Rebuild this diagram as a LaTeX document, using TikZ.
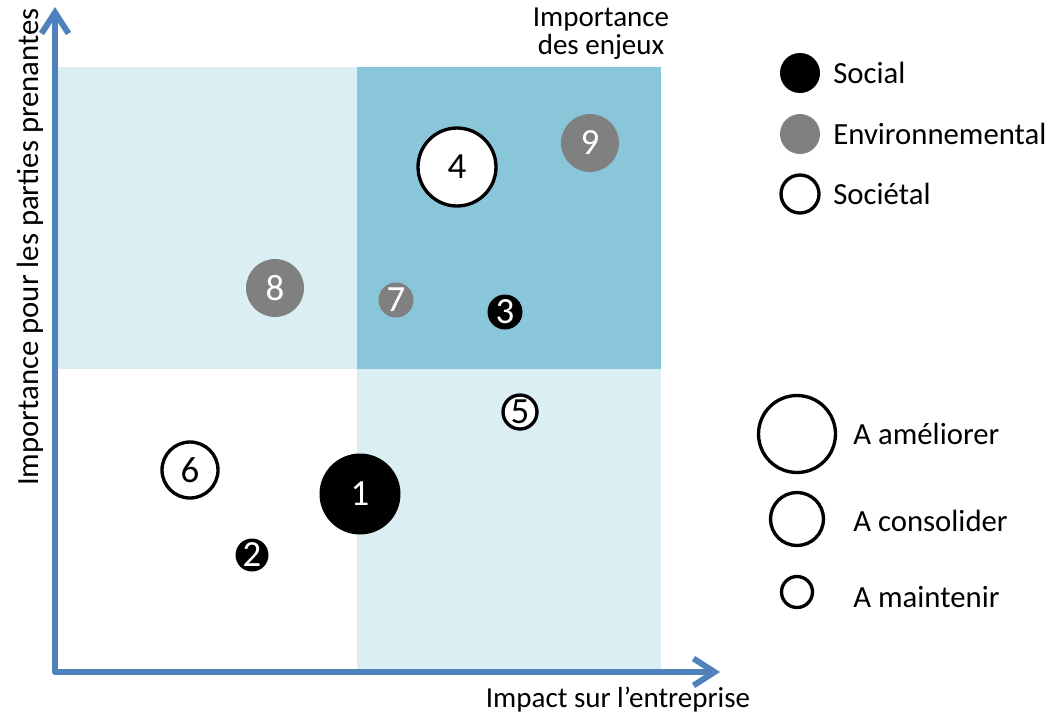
\documentclass[tikz,border=0pt]{standalone}
\usepackage{fontspec}
\setmainfont{Carlito}
\usetikzlibrary{arrows.meta}
\definecolor{axe}{HTML}{4F81BD}
\definecolor{clair}{HTML}{DAEEF3}
\definecolor{fonce}{HTML}{8AC6DA}
\definecolor{gris}{HTML}{808080}
\begin{document}
\begin{tikzpicture}[x=0.02cm,y=-0.02cm,line join=round,line cap=round,
bulle/.style={circle,inner sep=0pt,font=\fontsize{21}{21}\selectfont},
soc/.style={bulle,fill=black,text=white},
env/.style={bulle,fill=gris,text=white},
sctl/.style={bulle,fill=white,draw=black,line width=1.9pt},
etiq/.style={font=\fontsize{16.5}{16}\selectfont},
leg/.style={font=\fontsize{17.5}{17.5}\selectfont,anchor=west,inner sep=0pt}]
\useasboundingbox (0,0) rectangle (1051,721);
% quadrants
\fill[clair] (57,67) rectangle (357,369);
\fill[fonce] (357,67) rectangle (661,369);
\fill[clair] (357,369) rectangle (661,670);
% axes
\coordinate (ytip) at (55,7);
\coordinate (xtip) at (720,672);
\draw[axe,line width=3.4pt,line cap=butt,
{Straight Barb[length=4.2mm,width=5.4mm]}-{Straight Barb[length=4.2mm,width=5.4mm]}] (ytip) |- (xtip);
\node[etiq,align=center] (enjeux) at (601,34) {Importance\\des enjeux};
\node[etiq] (impact) at (618,700) {Impact sur l’entreprise};
\node[font=\fontsize{17.5}{17.5}\selectfont,rotate=90] (parties) at (30,247) {Importance pour les parties prenantes};
% enjeux
\node[soc,minimum size=1.62cm] (b1) at (360,494) {1};
\node[soc,minimum size=0.66cm] (b2) at (252,555) {2};
\node[soc,minimum size=0.70cm] (b3) at (505,312) {3};
\node[sctl,minimum size=1.56cm] (b4) at (457,167) {4};
\node[sctl,minimum size=0.68cm] (b5) at (520,412) {5};
\node[sctl,minimum size=1.12cm] (b6) at (190,470) {6};
\node[env,minimum size=0.70cm] (b7) at (396,300) {7};
\node[env,minimum size=1.16cm] (b8) at (275,288) {8};
\node[env,minimum size=1.16cm] (b9) at (590,143) {9};
% legende
\node[soc,minimum size=0.8cm] (l-soc) at (800,73) {};
\node[env,minimum size=0.8cm] (l-env) at (800,134) {};
\node[sctl,minimum size=0.76cm] (l-sctl) at (800,194) {};
\node[leg] (t-soc) at (833,73) {Social};
\node[leg] (t-env) at (833,134) {Environnemental};
\node[leg] (t-sctl) at (833,194) {Sociétal};
\node[sctl,minimum size=1.54cm] (l-amel) at (797,434) {};
\node[sctl,minimum size=1.06cm] (l-cons) at (797,519) {};
\node[sctl,minimum size=0.62cm] (l-main) at (797,592) {};
\node[leg] (t-amel) at (853,434) {A améliorer};
\node[leg] (t-cons) at (853,521) {A consolider};
\node[leg] (t-main) at (853,597) {A maintenir};
\end{tikzpicture}
\end{document}
